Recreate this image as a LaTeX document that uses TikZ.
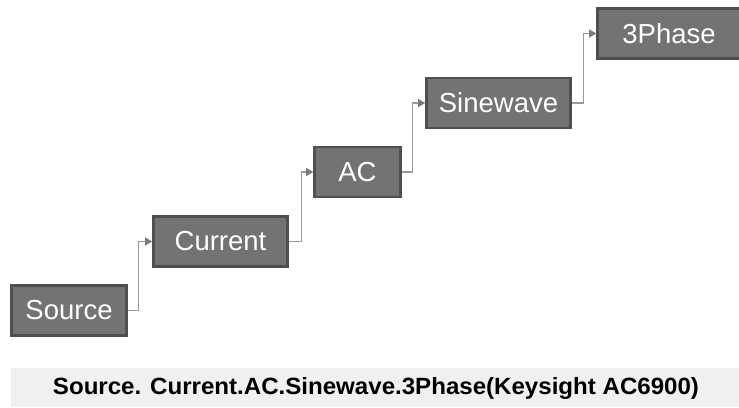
\documentclass[tikz,border=0pt]{standalone}
\usepackage{fontspec}
\setmainfont{Liberation Sans}
\usepackage{graphicx}
\usetikzlibrary{arrows.meta}
\definecolor{boxfill}{HTML}{737373}
\definecolor{boxline}{HTML}{4F4F4F}
\definecolor{conn}{HTML}{9A9A9A}
\definecolor{tipc}{HTML}{7A7A7A}
\definecolor{band}{HTML}{F0F0F0}
\begin{document}
\begin{tikzpicture}[x=1pt,y=1pt,
  stepbox/.style={draw=boxline, line width=2.6pt, fill=boxfill, text=white,
    inner sep=0pt, minimum height=50pt, font=\fontsize{27.5}{29}\selectfont},
  conn/.style={draw=conn, line width=1.1pt,
    -{Triangle[length=7pt,width=8pt,fill=tipc,color=tipc]}}]
\useasboundingbox (0,0) rectangle (739,407);
\node[stepbox, minimum width=115pt] (src) at (69,96.5) {Source};
\node[stepbox, minimum width=134pt] (cur) at (220.5,165.5) {Current};
\node[stepbox, minimum width=86pt] (ac) at (357.5,235) {AC};
\node[stepbox, minimum width=144pt] (sin) at (498.5,304) {Sinewave};
\node[stepbox, minimum width=143pt] (ph) at (669,373.5) {3Phase};
\draw[conn] (src.east) -- ++(11,0) |- (cur.west);
\draw[conn] (cur.east) -- ++(13,0) |- (ac.west);
\draw[conn] (ac.east) -- ++(11,0) |- (sin.west);
\draw[conn] (sin.east) -- ++(12,0) |- (ph.west);
\fill[band] (11,0) rectangle (739,39);
\node[inner sep=0pt, font=\fontsize{23.5}{25}\selectfont\bfseries] (cap) at (376,19)
  {\resizebox{646pt}{\height}{Source. Current.AC.Sinewave.3Phase(Keysight AC6900)}};
\end{tikzpicture}
\end{document}
